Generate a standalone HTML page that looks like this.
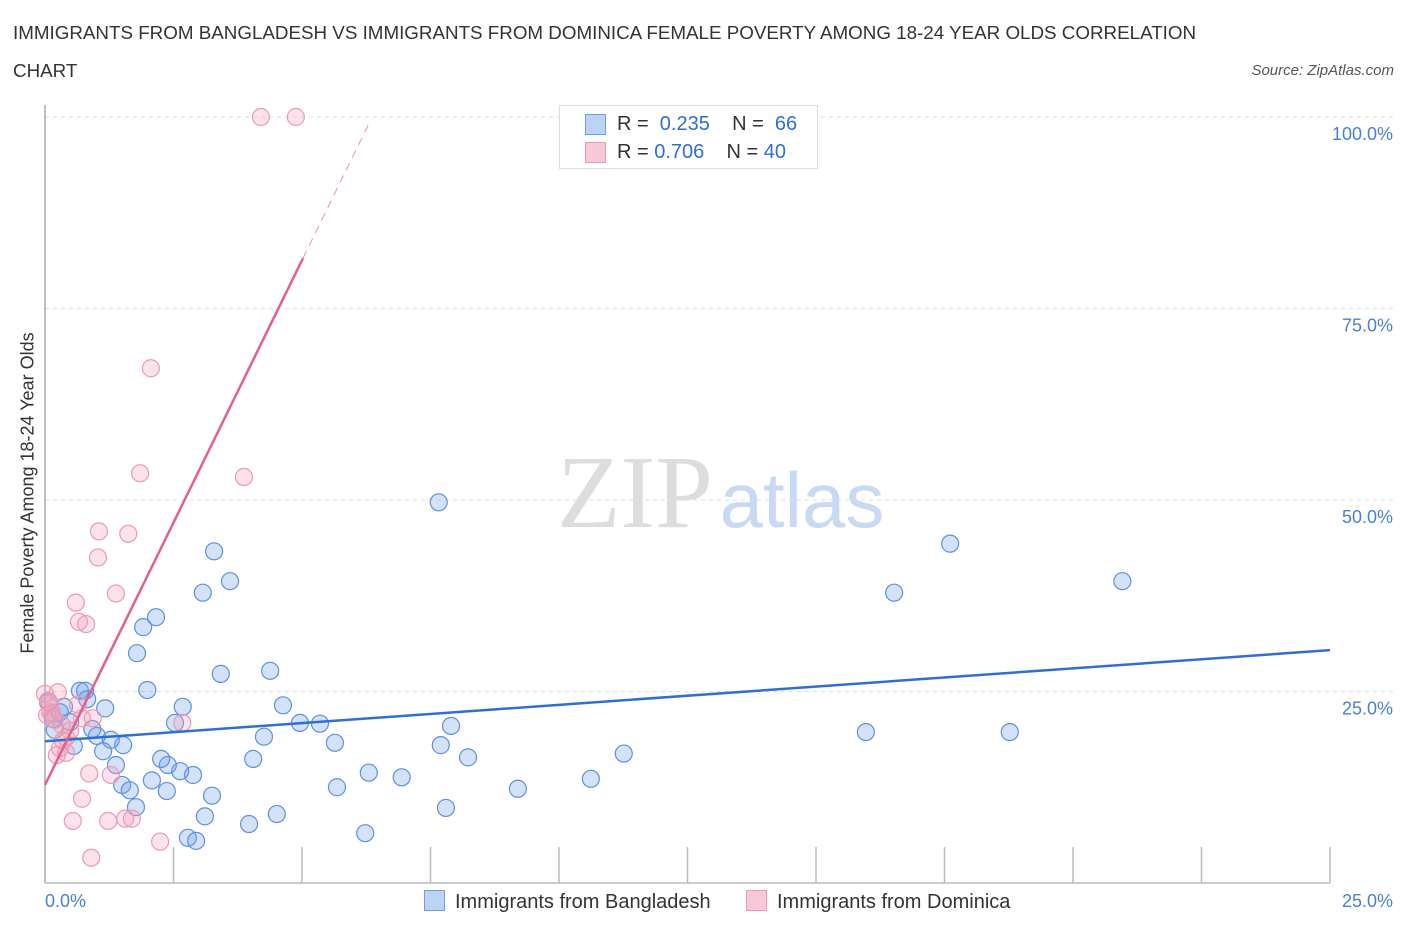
<!DOCTYPE html>
<html><head><meta charset="utf-8"><style>
body{margin:0;background:#fff;font-family:"Liberation Sans",sans-serif;}
#wrap{position:relative;width:1406px;height:930px;overflow:hidden;}
.t{position:absolute;white-space:nowrap;}
</style></head><body>
<div id="wrap">
<div class="t" style="left:13px;top:14px;font-size:18.8px;color:#333;line-height:38px;width:1210px;white-space:normal">IMMIGRANTS FROM BANGLADESH VS IMMIGRANTS FROM DOMINICA FEMALE POVERTY AMONG 18-24 YEAR OLDS CORRELATION CHART</div>
<div class="t" style="right:12px;top:62px;font-size:15px;font-style:italic;color:#555">Source: ZipAtlas.com</div>
<svg id="svg" width="1406" height="930" style="position:absolute;left:0;top:0"></svg>
</div>
<script>
const blueX=[7.66,17.61,16.52,20.96,15.97,18.77,3.29,3.60,3.07,2.16,1.91,1.79,3.42,4.38,1.99,2.68,4.63,4.96,5.35,5.64,7.90,7.70,8.23,11.26,10.62,9.20,6.94,6.30,5.68,7.80,6.23,4.51,3.97,3.11,3.25,2.78,2.94,2.88,2.63,2.39,2.26,2.08,2.37,1.50,1.65,1.77,1.38,1.52,1.28,1.13,1.01,0.92,1.17,0.82,0.68,0.37,0.19,0.16,0.29,0.06,0.49,0.56,4.05,4.26,2.53,0.78];
const blueY=[49.7,44.3,37.9,39.4,19.7,19.7,43.3,39.4,37.9,34.7,33.4,30.0,27.3,27.7,25.2,23.0,23.2,20.9,20.8,18.3,20.5,18.0,16.4,16.9,13.6,12.3,13.8,14.4,12.5,9.8,6.5,9.0,7.7,8.7,11.4,5.9,5.5,14.1,14.6,15.4,16.2,13.4,12.0,12.8,12.1,9.9,15.4,18.0,18.7,17.2,19.2,20.1,22.8,24.0,25.1,23.0,20.0,21.4,22.3,23.6,21.0,17.9,16.2,19.1,20.9,25.1];
const pinkX=[4.20,4.88,2.06,1.85,3.87,1.05,1.62,1.03,1.38,0.60,0.66,0.80,0.25,0.06,0.10,0.19,0.72,0.93,0.49,0.41,0.29,0.23,0.41,0.35,2.67,0.86,1.28,0.72,0.54,1.23,1.56,1.69,2.24,0.90,0.10,0.14,0.04,0.0,0.64,0.33];
const pinkY=[100,100,67.2,53.5,53.0,45.9,45.6,42.5,37.8,36.6,34.1,33.8,24.9,23.8,22.3,21.3,21.5,21.5,19.9,19.0,17.6,16.7,17.0,18.6,20.9,14.3,14.1,11.0,8.1,8.1,8.4,8.4,5.4,3.3,23.4,22.1,21.9,24.7,23.3,20.6];
const blueTrend=[18.5,30.4];
const pinkTrend=[12.8,13.7];
const yTicks=[25,50,75,100];
const X0=45,X1=1330,Y0=883,Y100=117;
const sx=v=>X0+(X1-X0)*v/25, sy=v=>Y0+(Y100-Y0)*v/100;
const svg=document.getElementById('svg');
const NS='http://www.w3.org/2000/svg';
function mk(tag,attrs){const e=document.createElementNS(NS,tag);for(const k in attrs)e.setAttribute(k,attrs[k]);svg.appendChild(e);return e;}
let wm=mk('text',{x:635,y:527,'font-size':104,fill:'#ddd','font-family':'Liberation Serif, serif','text-anchor':'middle'});wm.textContent='ZIP';

let wm2=mk('text',{x:802,y:527,'font-size':78,fill:'#c8daf3','font-family':'Liberation Sans, sans-serif','text-anchor':'middle'});wm2.textContent='atlas';

yTicks.forEach(t=>{
 const l=mk('line',{x1:X0,x2:1395,y1:sy(t),y2:sy(t),stroke:'#ddd','stroke-dasharray':'4,4'});
 
 const tx=mk('text',{x:1393,y:sy(t)+23,'font-size':18,fill:'#4a7fd6','text-anchor':'end','font-family':'Liberation Sans, sans-serif'});
 tx.textContent=t.toFixed(1)+'%';
 
});
for(let i=1;i<=10;i++){const x=sx(i*2.5);const l=mk('line',{x1:x,x2:x,y1:847,y2:883,stroke:'#bbb','stroke-width':1.5});
 }
let ax=mk('line',{x1:X0,x2:X0,y1:105,y2:883,stroke:'#aaa','stroke-width':1.5});
let axx=mk('line',{x1:X0,x2:X1,y1:883,y2:883,stroke:'#bbb','stroke-width':1.5});
blueX.forEach((v,i)=>{const c=mk('circle',{cx:sx(v),cy:sy(blueY[i]),r:8.5,fill:'rgba(110,160,230,0.3)',stroke:'#5d91de','stroke-width':1.2});
 });
pinkX.forEach((v,i)=>{const c=mk('circle',{cx:sx(v),cy:sy(pinkY[i]),r:8.5,fill:'rgba(245,160,185,0.3)',stroke:'#eb9ab3','stroke-width':1.2});
 });
let bt=mk('line',{x1:sx(0),y1:sy(blueTrend[0]),x2:sx(25),y2:sy(blueTrend[1]),stroke:'#2f6fd4','stroke-width':2.5});

const xs=5.02,xe=6.32;
let pt=mk('line',{x1:sx(0),y1:sy(pinkTrend[0]),x2:sx(xs),y2:sy(pinkTrend[0]+pinkTrend[1]*xs),stroke:'#e2608a','stroke-width':2.5});

let pd=mk('line',{x1:sx(xs),y1:sy(pinkTrend[0]+pinkTrend[1]*xs),x2:sx(xe),y2:sy(pinkTrend[0]+pinkTrend[1]*xe),stroke:'#e892ae','stroke-width':1,'stroke-dasharray':'8,6'});

</script>
<div class="t" style="left:28px;top:493px;font-size:18px;color:#333;transform:translate(-50%,-50%) rotate(-90deg)">Female Poverty Among 18-24 Year Olds</div>
<div class="t" style="left:45px;top:891px;font-size:18px;color:#4a7fd6">0.0%</div>
<div class="t" style="right:13px;top:891px;font-size:18px;color:#4a7fd6">25.0%</div>
<div style="position:absolute;left:559px;top:105px;width:257px;height:62px;border:1px solid #ddd;background:#fff;font-size:20px;color:#333">
 <div style="position:absolute;left:25px;top:8px;width:19px;height:19px;background:#bcd3f5;border:1px solid #6f9ee0"></div>
 <div class="t" style="left:57px;top:7px">R = <span style="color:#2f6fd4">&nbsp;0.235</span>&nbsp;&nbsp;&nbsp;&nbsp;N = <span style="color:#2f6fd4">&nbsp;66</span></div>
 <div style="position:absolute;left:25px;top:36px;width:19px;height:19px;background:#f8c8d6;border:1px solid #eb9ab3"></div>
 <div class="t" style="left:57px;top:35px">R = <span style="color:#2f6fd4">0.706</span>&nbsp;&nbsp;&nbsp;&nbsp;N = <span style="color:#2f6fd4">40</span></div>
</div>
<div style="position:absolute;left:424px;top:890px;font-size:20px;color:#333;white-space:nowrap">
 <span style="display:inline-block;width:19px;height:19px;background:#bcd3f5;border:1px solid #6f9ee0;vertical-align:-3px;margin-right:10px"></span>Immigrants from Bangladesh</div>
<div style="position:absolute;left:746px;top:890px;font-size:20px;color:#333;white-space:nowrap">
 <span style="display:inline-block;width:19px;height:19px;background:#f8c8d6;border:1px solid #eb9ab3;vertical-align:-3px;margin-right:10px"></span>Immigrants from Dominica</div>
</body></html>
